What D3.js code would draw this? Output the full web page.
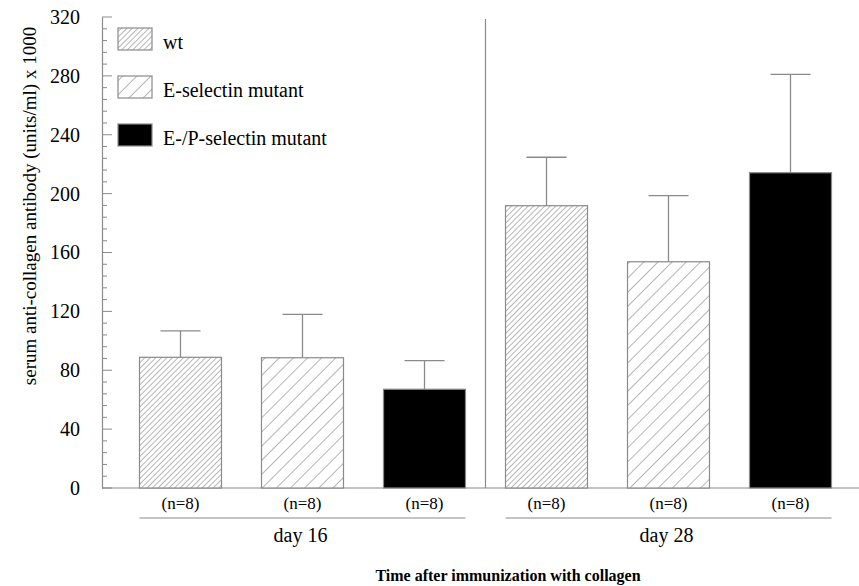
<!DOCTYPE html>
<html><head><meta charset="utf-8">
<script src="https://cdn.jsdelivr.net/npm/d3@7"></script>
<style>body{margin:0;background:#fff}svg{display:block}text{font-family:"Liberation Serif","Times New Roman",serif;fill:#000}</style>
</head><body>
<svg id="c" width="859" height="586"></svg>
<script>
const groups = ["day 16", "day 28"];
const seriesNames = ["wt", "E-selectin mutant", "E-/P-selectin mutant"];
const means = [[88.8, 88.5, 67.1], [191.8, 153.7, 214.2]];
const upperErr = [[106.7, 118.0, 86.5], [224.7, 198.6, 281.0]];
const nLabels = [["(n=8)", "(n=8)", "(n=8)"], ["(n=8)", "(n=8)", "(n=8)"]];
const yTicks = [0, 40, 80, 120, 160, 200, 240, 280, 320];
const yLabel = "serum anti-collagen antibody (units/ml) x 1000";
const xTitle = "Time after immunization with collagen";

const svg = d3.select("#c");
const gray = "#8a8a8a";
const defs = svg.append("defs");
function hatch(id, s) {
  const p = defs.append("pattern").attr("id", id).attr("patternUnits", "userSpaceOnUse")
    .attr("width", s).attr("height", s).attr("patternTransform", "rotate(45)");
  p.append("rect").attr("width", s).attr("height", s).attr("fill", "#fff");
  p.append("line").attr("x1", 0).attr("y1", 0).attr("x2", 0).attr("y2", s)
    .attr("stroke", "#6e6e6e").attr("stroke-width", 1);
}
hatch("h0", 3.9);
hatch("h1", 10);
const fills = ["url(#h0)", "url(#h1)", "#000"];

const y = d3.scaleLinear().domain([0, 320]).range([488, 17]);
const keys = [];
groups.forEach((g, gi) => seriesNames.forEach((s, si) => keys.push(gi + "-" + si)));
const x = d3.scaleBand().domain(keys).range([119.5, 851.5]).paddingInner(0.328).paddingOuter(0.164);
const bw = x.bandwidth();
const axisX = 102;

// minor ticks
const minor = d3.range(0, 321, 8);
svg.append("g").selectAll("line").data(minor).join("line")
  .attr("x1", axisX).attr("x2", d => axisX + (d % 40 === 0 ? 10 : 5))
  .attr("y1", d => y(d)).attr("y2", d => y(d)).attr("stroke", gray).attr("stroke-width", 1);

// y axis
const ya = svg.append("g").attr("transform", `translate(${axisX},0)`)
  .call(d3.axisLeft(y).tickValues(yTicks).tickSize(0).tickPadding(22));
ya.attr("font-size", null).attr("font-family", null);
ya.select(".domain").attr("stroke", gray).attr("stroke-width", 1.2);
ya.selectAll("text").style("font-size", "20px").style("font-family", '"Liberation Serif",serif');

// baseline
svg.append("line").attr("x1", axisX).attr("x2", 859).attr("y1", y(0)).attr("y2", y(0))
  .attr("stroke", gray).attr("stroke-width", 1.2);

// divider
const divX = x("1-0") - (x.step() - bw) / 2;
svg.append("line").attr("x1", divX).attr("x2", divX)
  .attr("y1", 19).attr("y2", y(0)).attr("stroke", gray).attr("stroke-width", 1.2);

const data = [];
groups.forEach((g, gi) => seriesNames.forEach((s, si) => data.push({
  key: gi + "-" + si, gi, si, v: means[gi][si], e: upperErr[gi][si], n: nLabels[gi][si]
})));

// error bars
const eb = svg.append("g");
data.forEach(d => {
  const cx = x(d.key) + bw / 2;
  eb.append("line").attr("x1", cx).attr("x2", cx).attr("y1", y(d.v)).attr("y2", y(d.e))
    .attr("stroke", gray).attr("stroke-width", 1.3);
  eb.append("line").attr("x1", cx - 20).attr("x2", cx + 20).attr("y1", y(d.e)).attr("y2", y(d.e))
    .attr("stroke", gray).attr("stroke-width", 1.3);
});

// bars
svg.append("g").selectAll("rect").data(data).join("rect")
  .attr("x", d => x(d.key)).attr("width", bw)
  .attr("y", d => y(d.v)).attr("height", d => y(0) - y(d.v))
  .attr("fill", d => fills[d.si]).attr("stroke", gray).attr("stroke-width", 1.2);

// n labels
svg.append("g").selectAll("text").data(data).join("text")
  .attr("x", d => x(d.key) + bw / 2).attr("y", 509).attr("text-anchor", "middle")
  .style("font-size", "17px").text(d => d.n);

// group lines & labels
groups.forEach((g, gi) => {
  const x0 = x(gi + "-0"), x1 = x(gi + "-2") + bw;
  svg.append("line").attr("x1", x0).attr("x2", x1).attr("y1", 518).attr("y2", 518)
    .attr("stroke", gray).attr("stroke-width", 1.2);
  svg.append("text").attr("x", (x0 + x1) / 2 - 2).attr("y", 542).attr("text-anchor", "middle")
    .style("font-size", "20px").text(g);
});

// x title
svg.append("text").attr("x", 508).attr("y", 581).attr("text-anchor", "middle")
  .style("font-size", "16px").attr("font-weight", "bold").text(xTitle);

// y label
svg.append("text").attr("transform", "translate(36,206) rotate(-90)").attr("text-anchor", "middle")
  .style("font-size", "19px").text(yLabel);

// legend
const lg = svg.append("g");
seriesNames.forEach((s, i) => {
  const top = 28 + i * 48;
  lg.append("rect").attr("x", 118).attr("y", top).attr("width", 34).attr("height", 22)
    .attr("fill", fills[i]).attr("stroke", gray).attr("stroke-width", 1.2);
  lg.append("text").attr("x", 163).attr("y", top + 21).style("font-size", "20px").text(s);
});
</script>
</body></html>
